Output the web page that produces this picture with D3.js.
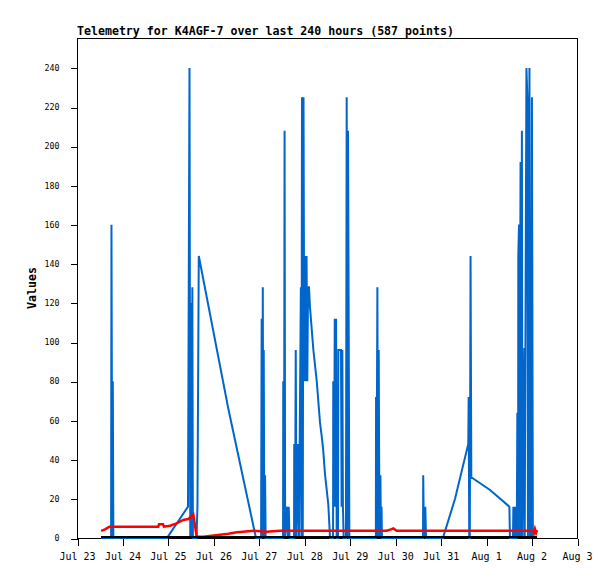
<html>
<head>
<meta charset="utf-8">
<title>Telemetry</title>
<style>
  body { margin: 0; background: #fff; }
  text { font-family: "DejaVu Sans Mono", "Liberation Mono", monospace; }
</style>
</head>
<body>
<svg width="615" height="579"></svg>
<script src="https://d3js.org/d3.v7.min.js"></script>
<script>

// hours counted from Jul 23 00:00
var blueHours = [12.7, 18.0, 18.2, 18.6, 18.9, 19.2, 47.5, 58.6, 59.4, 59.8, 60.1, 60.5, 60.9, 61.2, 63.1, 63.6, 64.3, 79.9, 94.5,
  97.2, 97.5, 97.8, 98.1, 98.4, 98.6, 98.9, 99.3, 99.6, 108.8, 108.9, 109.3, 109.6, 109.9, 111.0, 111.4, 111.8, 112.2,
  114.6, 114.7, 115.1, 115.5, 115.9, 116.8, 117.2, 118.2, 118.5, 118.8, 119.2, 119.6, 120.0, 120.4, 120.8, 121.2, 121.6,
  122.0, 122.5, 123.0, 123.9, 124.8, 125.7, 126.6, 127.4, 128.3, 129.2, 130.0, 130.9, 131.8, 132.7, 133.6,
  135.2, 135.3, 135.7, 136.1, 136.5, 136.8, 137.1, 137.8, 138.0, 139.4, 139.7, 140.1, 140.4, 140.8, 142.0, 142.4, 142.7,
  143.1, 143.5, 143.8, 157.8, 157.9, 158.1, 158.6, 158.9, 159.3, 159.7, 160.2, 160.5, 160.8, 161.0,
  182.7, 182.8, 183.2, 183.9, 184.3, 193.2, 199.6, 206.6, 206.8, 207.1, 207.4, 207.8, 208.2, 218.1, 228.3, 228.6,
  230.2, 230.4, 230.7, 231.2, 231.4, 232.2, 232.5, 232.9, 233.0, 233.4, 233.6, 234.2, 234.6, 234.9, 235.2, 236.2, 236.4,
  237.3, 237.8, 238.1, 238.9, 239.2, 239.4, 239.7, 240.2, 240.7];
var blueValues = [0, 0, 160, 0, 80, 0, 0, 16, 240, 0, 120, 0, 128, 0, 0, 16, 144, 66, 0,
  0, 112, 0, 128, 0, 96, 0, 32, 0, 0, 80, 0, 208, 0, 16, 0, 16, 0,
  0, 48, 0, 96, 0, 48, 0, 128, 0, 225, 0, 225, 80, 144, 80, 144, 80,
  128, 128, 118, 107, 96, 88, 80, 70, 59, 52, 45, 33, 25, 17, 0,
  0, 80, 16, 112, 16, 112, 0, 0, 96, 96, 16, 96, 16, 0, 0, 225, 0,
  208, 96, 0, 0, 72, 0, 128, 0, 96, 0, 32, 0, 16, 0,
  0, 32, 0, 16, 0, 0, 20, 48, 72, 0, 0, 144, 31, 24.5, 16, 0,
  0, 16, 0, 16, 0, 0, 64, 0, 144, 160, 0, 192, 0, 208, 0, 97, 0,
  240, 225, 0, 240, 0, 128, 0, 225, 0];

var redHours = [12.7, 14.8, 17.1, 42.9, 43.3, 45.4, 45.9, 49.1, 52.6, 56.1, 58.8, 61.4, 63.2, 66.7, 71.1, 75.5, 79.9,
  84.3, 87.8, 93.1, 100.2, 107.2, 163.5, 165.8, 167.0, 168.8, 240.8, 241.3, 241.8, 242.4, 242.9];
var redValues = [3.6, 4.4, 5.8, 5.8, 7.0, 7.0, 5.8, 6.3, 7.5, 9.2, 9.7, 12.1, 0.7, 0.7, 1.2, 1.7, 2.2,
  2.9, 3.2, 3.7, 3.2, 3.7, 3.7, 4.4, 4.9, 3.7, 3.7, 2.6, 4.6, 2.6, 4.0];

var blackHours = [12.7, 242.9];
var blackValues = [0, 0];

var yTicks = [0, 20, 40, 60, 80, 100, 120, 140, 160, 180, 200, 220, 240];
var xTickLabels = ["Jul 23", "Jul 24", "Jul 25", "Jul 26", "Jul 27", "Jul 28", "Jul 29",
  "Jul 30", "Jul 31", "Aug 1", "Aug 2", "Aug 3"];

var titleText = "Telemetry for K4AGF-7 over last 240 hours (587 points)";

var start = new Date(2024, 6, 23);
function toDate(h) { return new Date(start.getTime() + h * 3600000); }

var svg = d3.select('svg');
svg.append('rect').attr('width', 615).attr('height', 579).attr('fill', '#fff');

var x = d3.scaleTime()
  .domain([start, d3.timeDay.offset(start, 11)])
  .range([77, 577]);
var y = d3.scaleLinear().domain([0, 255.3]).range([538, 38]);

var line = d3.line()
  .x(function(d) { return x(toDate(d[0])); })
  .y(function(d) { return y(d[1]); });

function pairs(hs, vs) { return hs.map(function(h, i) { return [h, vs[i]]; }); }

// frame
svg.append('rect')
  .attr('x', 77.5).attr('y', 38.5).attr('width', 500).attr('height', 500)
  .attr('fill', 'none').attr('stroke', '#000').attr('stroke-width', 1)
  .attr('shape-rendering', 'crispEdges');

svg.append('path').datum(pairs(blueHours, blueValues))
  .attr('d', line).attr('fill', 'none')
  .attr('stroke', '#0066cc').attr('stroke-width', 2);

svg.append('path').datum(pairs(redHours, redValues))
  .attr('d', line).attr('fill', 'none')
  .attr('stroke', '#ff0000').attr('stroke-width', 2.5);

svg.append('path').datum(pairs(blackHours, blackValues))
  .attr('d', line).attr('fill', 'none')
  .attr('stroke', '#000').attr('stroke-width', 2)
  .attr('transform', 'translate(0,-1)');

// axes
var xAxis = d3.axisBottom(x)
  .tickValues(xTickLabels.map(function(d, i) { return d3.timeDay.offset(start, i); }))
  .tickFormat(function(d, i) { return xTickLabels[i]; })
  .tickSize(7).tickPadding(7).tickSizeOuter(0);
var gx = svg.append('g').attr('transform', 'translate(0,538.5)').call(xAxis);
gx.select('.domain').remove();
gx.selectAll('line').attr('shape-rendering', 'crispEdges').attr('transform', 'translate(0.5,0)');
gx.selectAll('text').attr('font-size', '10px').attr('fill', '#000')
  .style('font-family', '"DejaVu Sans Mono", monospace');

var yAxis = d3.axisLeft(y).tickValues(yTicks).tickSize(7).tickPadding(11).tickSizeOuter(0);
var gy = svg.append('g').attr('transform', 'translate(77.5,0)').call(yAxis);
gy.select('.domain').remove();
gy.selectAll('line').attr('shape-rendering', 'crispEdges').attr('transform', 'translate(0,0.5)');
gy.selectAll('text').attr('font-size', '8.3px').attr('fill', '#000')
  .style('font-family', '"DejaVu Sans Mono", monospace');

svg.append('text')
  .attr('x', 77).attr('y', 35)
  .attr('font-size', '11.6px').attr('font-weight', 'bold')
  .text(titleText);

svg.append('text')
  .attr('transform', 'translate(36,288) rotate(-90)')
  .attr('text-anchor', 'middle')
  .attr('font-size', '11.6px').attr('font-weight', 'bold')
  .text('Values');

</script>
</body>
</html>
